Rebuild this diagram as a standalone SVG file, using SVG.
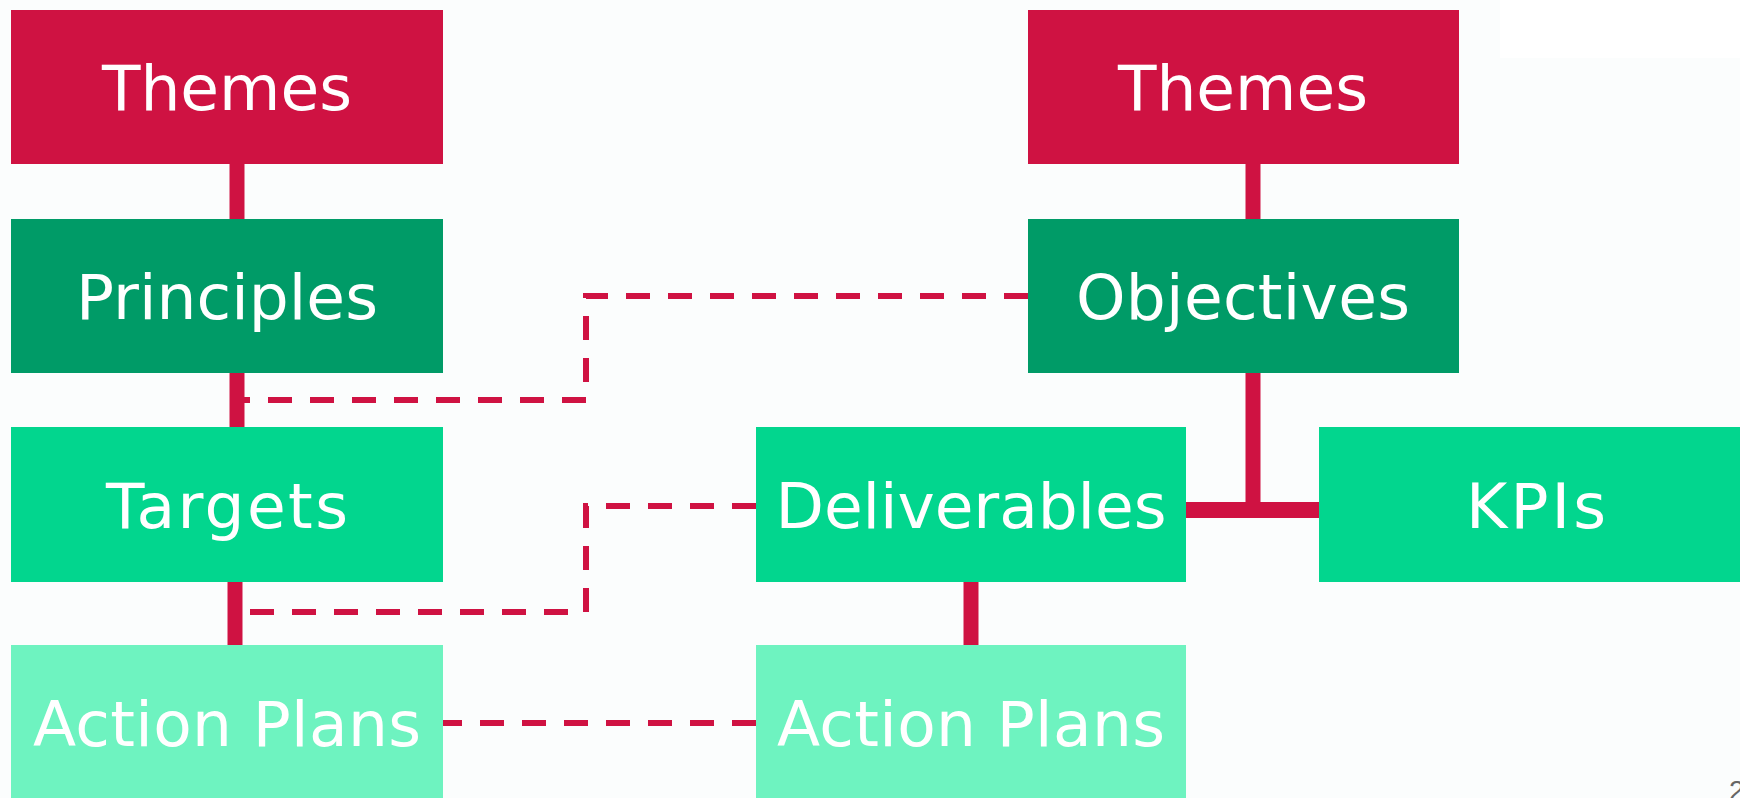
<svg xmlns="http://www.w3.org/2000/svg" width="1740" height="798" viewBox="0 0 1740 798">
<style>
.lbl{font-family:"DejaVu Sans",Verdana,sans-serif;font-size:63px;fill:#ffffff;text-anchor:middle}
.solid{stroke:#CF1242;stroke-width:15;fill:none}
.dash{stroke:#CF1242;stroke-width:6;fill:none;stroke-dasharray:24 18}
.red{fill:#CF1242}
.dg{fill:#009B67}
.mg{fill:#02D68E}
.lg{fill:#6EF3C0}
</style>
<rect width="1740" height="798" fill="#FBFDFD"/>
<rect x="1500" y="0" width="240" height="58" fill="#FFFFFF"/>
<g id="connectors">
<line class="solid" x1="237" y1="164" x2="237" y2="219"/>
<line class="solid" x1="237" y1="373" x2="237" y2="427"/>
<line class="solid" x1="235" y1="582" x2="235" y2="645"/>
<line class="solid" x1="1253" y1="164" x2="1253" y2="219"/>
<polyline class="solid" points="1253,373 1253,510"/>
<line class="solid" x1="1186" y1="510" x2="1319" y2="510" style="stroke-width:16"/>
<line class="solid" x1="971" y1="582" x2="971" y2="645"/>
<path class="dash" d="M1028,296 H586 V400 H244"/>
<path class="dash" d="M756,506 H586 V612 H248"/>
<path class="dash" d="M756,723 H443"/>
</g>
<g id="themes-left"><rect class="red" x="11" y="10" width="432" height="154"/><text class="lbl" x="227" y="110">Themes</text></g>
<g id="principles"><rect class="dg" x="11" y="219" width="432" height="154"/><text class="lbl" x="227" y="319" textLength="302" lengthAdjust="spacing">Principles</text></g>
<g id="targets"><rect class="mg" x="11" y="427" width="432" height="155"/><text class="lbl" x="227" y="528" textLength="242" lengthAdjust="spacing">Targets</text></g>
<g id="action-plans-left"><rect class="lg" x="11" y="645" width="432" height="153"/><text class="lbl" x="227" y="746" textLength="388" lengthAdjust="spacing">Action Plans</text></g>
<g id="themes-right"><rect class="red" x="1028" y="10" width="431" height="154"/><text class="lbl" x="1243" y="110">Themes</text></g>
<g id="objectives"><rect class="dg" x="1028" y="219" width="431" height="154"/><text class="lbl" x="1243" y="319" textLength="334" lengthAdjust="spacing">Objectives</text></g>
<g id="deliverables"><rect class="mg" x="756" y="427" width="430" height="155"/><text class="lbl" x="971" y="528" textLength="391" lengthAdjust="spacing">Deliverables</text></g>
<g id="kpis"><rect class="mg" x="1319" y="427" width="431" height="155"/><text class="lbl" x="1536" y="528" textLength="140" lengthAdjust="spacing">KPIs</text></g>
<g id="action-plans-right"><rect class="lg" x="756" y="645" width="430" height="153"/><text class="lbl" x="971" y="746" textLength="388" lengthAdjust="spacing">Action Plans</text></g>
<text x="1729" y="800" font-family="Liberation Sans, Arial, sans-serif" font-size="28" fill="#666666">2</text>
</svg>
